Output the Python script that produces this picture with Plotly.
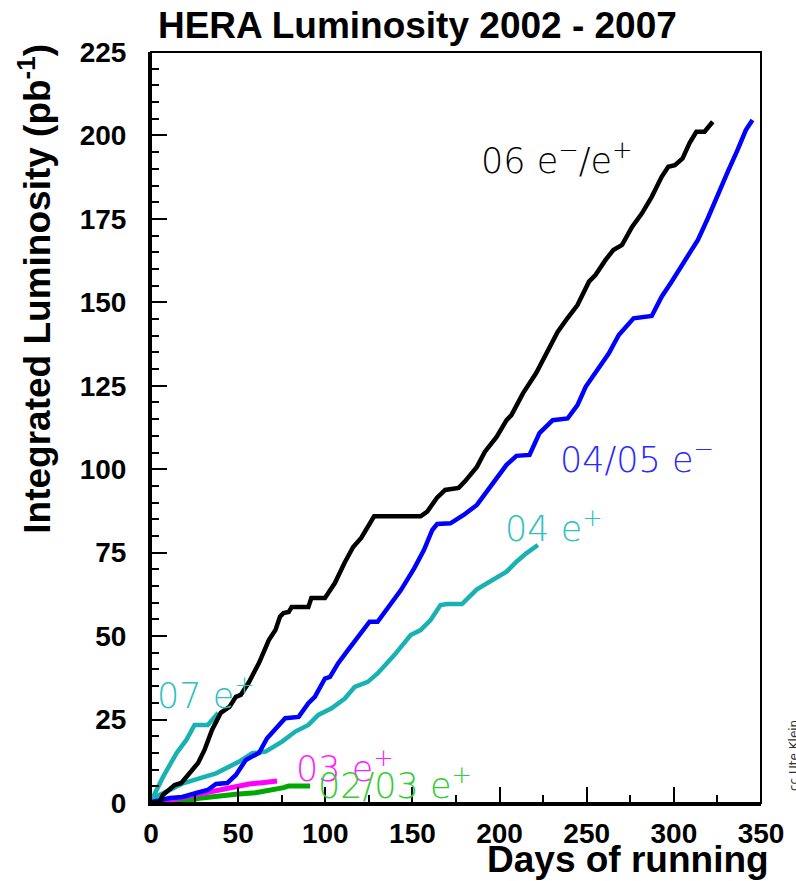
import plotly.graph_objects as go

# ---------------- data (days of running, integrated luminosity pb^-1) ----------------
days_06 = [0, 5, 6.8, 13.6, 17.4, 22, 27, 30.7, 35, 40, 45, 48.7, 51.5, 56, 62, 67.6, 71.4, 74, 76, 79,
           80.7, 90.3, 92, 99.8, 105.5, 111, 116, 120.6, 124.4, 128, 154.7, 158.5, 164, 168.8, 176.5,
           180, 187, 191.5, 198.3, 204, 206.8, 213.5, 221, 228.5, 233.3, 239, 244.7, 251.3, 255,
           260.8, 265.3, 270.3, 276, 281.6, 287.3, 293, 296.8, 300.6, 305, 309, 312.9, 317.6, 322.3]
lumi_06 = [0, 0.3, 2.4, 5.4, 6, 9, 12, 15.9, 21.9, 27, 28.8, 31.8, 32.4, 36, 42, 48.8, 51.8, 55.8, 56.9, 57.2,
           58.7, 58.7, 61.4, 61.4, 65.9, 71.9, 76.7, 79.4, 82.7, 85.9, 85.9, 87.3, 91.4, 93.8, 94.4,
           96.3, 100.7, 105.2, 109.7, 114.7, 116.2, 122.8, 128.8, 136.7, 141.1, 145.3, 149.2, 156.2, 158.2,
           162.7, 165.7, 167.2, 172.6, 176.6, 181.6, 187.6, 190.6, 191.1, 193.1, 197.7, 201.1, 201.1, 204.1]

days_0405 = [0, 1.3, 10.8, 18, 26, 32.5, 37.3, 43.8, 48.7, 54.4, 58, 62, 66.6, 71.4, 77, 84.7, 90.3, 94,
             99.8, 102.7, 107.4, 113, 118.8, 125.4, 130, 135.8, 143.4, 151, 156.6, 161.4, 164.2, 171.8,
             179.4, 187, 197.3, 204, 209.7, 217.2, 222.9, 230.5, 239, 244.7, 249.4, 257, 262.7, 268.4,
             276.9, 287.3, 293, 298.7, 306.3, 313.8, 319.5, 325.2, 330.9, 336.5, 341.3, 345.1]
lumi_0405 = [0, 0.4, 1.5, 1.8, 3, 3.9, 5.7, 6, 8.4, 12.9, 13.9, 15, 19.4, 22.4, 25.4, 25.8, 29.9, 31.8,
             37.3, 37.8, 41.9, 45.8, 49.8, 54.3, 54.3, 58.3, 63.8, 70.3, 75.8, 81.8, 83.6, 83.8,
             86.3, 89.3, 96.8, 101.3, 104, 104.3, 110.8, 114.7, 115.2, 119.2, 124.7, 130.7, 134.7, 140.2,
             145.2, 145.9, 151.7, 156.2, 162.7, 168.7, 175.2, 182.6, 189.1, 195.6, 201.6, 204.6]

days_04 = [0, 1.3, 8.9, 18.4, 27.8, 37.3, 44.9, 50.6, 58.1, 65.7, 75.2, 82.8, 90.3, 96, 103.6, 111.2,
           116.9, 124.4, 130, 139.6, 149, 154.7, 160.4, 166.1, 170, 178.4, 187, 196.4, 204, 209.7, 215.3, 222]
lumi_04 = [0, 1.5, 3.4, 5.9, 7.4, 8.9, 10.9, 12.4, 14.9, 15.4, 18.4, 21.4, 23.4, 26.4, 28.4, 31.3,
           34.8, 36.3, 38.8, 44.3, 50.3, 51.8, 54.8, 59.3, 59.6, 59.6, 64, 66.8, 69.3, 72.3, 74.8, 77.3]

days_07 = [0, 1.3, 7, 14.6, 20.3, 25, 32.6, 37.3, 38.5]
lumi_07 = [0, 1.9, 7.9, 14.9, 18.9, 23.4, 23.4, 26.4, 27]

days_03 = [2.3, 10, 18.4, 27.8, 37.3, 46.8, 56.3, 63.8, 72.3]
lumi_03 = [0, 0.8, 1.9, 2.9, 3.9, 4.9, 5.7, 6.1, 6.6]

days_0203 = [5, 16.5, 27.8, 37.3, 48.7, 60, 71.4, 76.1, 79, 91.3]
lumi_0203 = [0, 0.4, 1.4, 2.1, 2.6, 3.1, 3.9, 4.6, 5.1, 5.1]

x_ticks = [0, 50, 100, 150, 200, 250, 300, 350]
y_ticks = [0, 25, 50, 75, 100, 125, 150, 175, 200, 225]

# label text, anchor (days, lumi), colour
labels = [
    ("06 e<sup>−</sup>/e<sup>+</sup>", 188, 193.2, "#000000"),
    ("04/05 e<sup>−</sup>", 233.5, 103.7, "#2a2aff"),
    ("04 e<sup>+</sup>", 201.7, 83, "#30c0c0"),
    ("07 e<sup>+</sup>", 2.3, 33, "#30c0c0"),
    ("03 e<sup>+</sup>", 81.8, 11, "#ff22ff"),
    ("02/03 e<sup>+</sup>", 94.9, 6, "#33cc33"),
]

series = [
    (days_0203, lumi_0203, "#00a800", 5),
    (days_03, lumi_03, "#ff00ff", 5),
    (days_04, lumi_04, "#19b2b2", 4.5),
    (days_07, lumi_07, "#19b2b2", 4.5),
    (days_0405, lumi_0405, "#0000ff", 4.5),
    (days_06, lumi_06, "#000000", 4.5),
]

fig = go.Figure()
for xs, ys, col, w in series:
    fig.add_trace(go.Scatter(x=xs, y=ys, mode="lines", line=dict(color=col, width=w),
                             showlegend=False, hoverinfo="skip"))

BOLD = "Liberation Sans, Arial, sans-serif"
THIN = "DejaVu Sans, Open Sans, sans-serif"

for txt, xd, yd, col in labels:
    fig.add_annotation(x=xd, y=yd, xref="x", yref="y", text=txt, showarrow=False,
                       xanchor="left", yanchor="middle",
                       font=dict(family=THIN, size=35, color=col, weight=200))

fig.add_annotation(x=-0.19, y=0.685, xref="paper", yref="paper",
                   text="Integrated Luminosity (pb<sup>-1</sup>)", textangle=-90, showarrow=False,
                   xanchor="center", yanchor="middle",
                   font=dict(family=BOLD, size=37, color="black", weight="bold"))
fig.add_annotation(x=1.016, y=-0.075, xref="paper", yref="paper", text="Days of running",
                   showarrow=False, xanchor="right", yanchor="middle",
                   font=dict(family=BOLD, size=37, color="black", weight="bold"))
fig.add_annotation(x=1.053, y=0.063, xref="paper", yref="paper", text="cc Ute Klein",
                   textangle=-90, showarrow=False, xanchor="center", yanchor="middle",
                   font=dict(family="DejaVu Sans, sans-serif", size=12, color="#333333"))

# thinner frame on top / right
fig.add_shape(type="rect", xref="paper", yref="paper", x0=0, y0=0, x1=1, y1=1,
              line=dict(color="black", width=2), layer="above")

axis_common = dict(showgrid=False, zeroline=False, showline=True, linecolor="black", linewidth=3,
                   mirror=False, ticks="inside", tickcolor="black", tickwidth=1.5, ticklen=16,
                   tickfont=dict(family=BOLD, size=28, color="black", weight="bold"))

fig.update_xaxes(range=[0, 350], tickvals=x_ticks, ticktext=[str(v) for v in x_ticks],
                 minor=dict(ticks="inside", dtick=25, tick0=0, ticklen=8, tickwidth=1.5, tickcolor="black"),
                 ticklabelstandoff=3, **axis_common)
fig.update_yaxes(range=[0, 225], tickvals=y_ticks, ticktext=[str(v) for v in y_ticks],
                 minor=dict(ticks="inside", dtick=5, tick0=0, ticklen=8, tickwidth=1.5, tickcolor="black"),
                 ticklabelstandoff=16, **axis_common)

fig.update_layout(
    width=796, height=881,
    margin=dict(l=151, r=29, t=52, b=78),
    paper_bgcolor="white", plot_bgcolor="white",
    title=dict(text="HERA Luminosity 2002 - 2007", x=0.4367, xref="paper", xanchor="center",
               y=1 - 25 / 881, yref="container", yanchor="middle",
               font=dict(family=BOLD, size=37, color="black", weight="bold")),
)

fig.write_html("out.html", config={"displayModeBar": False},
               post_script="document.body.style.margin='0';document.body.style.overflow='hidden';")
